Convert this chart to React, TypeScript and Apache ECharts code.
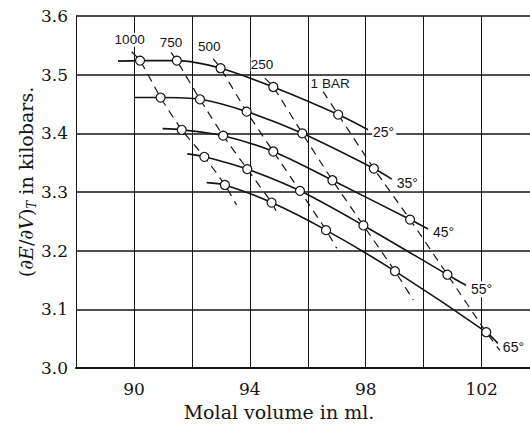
import React, { useEffect, useRef } from 'react';
import * as echarts from 'echarts';

// Labels
const temperatures = ['25°', '35°', '45°', '55°', '65°'];
const pressureLabels = ['1000', '750', '500', '250', '1 BAR'];

// Circle points per isotherm, in the order 1000, 750, 500, 250, 1 bar
const vol25 = [90.21, 91.48, 92.99, 94.81, 97.05];
const val25 = [3.524, 3.524, 3.511, 3.479, 3.432];
const vol35 = [90.92, 92.28, 93.89, 95.81, 98.28];
const val35 = [3.461, 3.458, 3.437, 3.4, 3.34];
const vol45 = [91.65, 93.08, 94.81, 96.85, 99.53];
const val45 = [3.406, 3.396, 3.369, 3.32, 3.253];
const vol55 = [92.43, 93.91, 95.73, 97.92, 100.82];
const val55 = [3.36, 3.339, 3.302, 3.243, 3.159];
const vol65 = [93.14, 94.75, 96.63, 99.01, 102.16];
const val65 = [3.312, 3.282, 3.235, 3.165, 3.061];

// Where each isotherm curve begins and ends
const isothermStart = [[89.45, 3.523], [90.0, 3.461], [90.99, 3.408], [91.84, 3.365], [92.51, 3.316]];
const isothermEnd = [[98.08, 3.406], [98.9, 3.322], [100.15, 3.237], [101.46, 3.141], [102.56, 3.042]];

// Where each isobar (dashed) begins and ends
const isobarStart = [[89.92, 3.539], [91.28, 3.538], [92.74, 3.527], [94.52, 3.494], [96.53, 3.471]];
const isobarEnd = [[93.54, 3.278], [94.98, 3.261], [97.0, 3.204], [99.64, 3.116], [102.63, 3.03]];

// Axis ticks
const xLabelTicks = [90, 94, 98, 102];
const yTicks = [3.0, 3.1, 3.2, 3.3, 3.4, 3.5, 3.6];

// label placement (style only)
const tempLabelOffset = [[1, 2], [1, 4], [1, 3], [1, 4], [1, 4]];
const pressLabelOffset = [[-2, -2], [0, 0], [-4, -2], [-3, -4], [7, 2]];

const vols = [vol25, vol35, vol45, vol55, vol65];
const vals = [val25, val35, val45, val55, val65];

const INK = '#141414';

export default function App() {
  const ref = useRef<HTMLDivElement>(null);
  useEffect(() => {
    if (!ref.current) return;
    const chart = echarts.init(ref.current, undefined, { renderer: 'svg' });

    const isobars = pressureLabels.map((p, i) => ({
      type: 'line',
      z: 2,
      symbol: 'none',
      smooth: 0.2,
      silent: true,
      lineStyle: { color: INK, width: 1.2, type: [8, 6] },
      data: [
        {
          value: isobarStart[i],
          symbol: 'circle',
          symbolSize: 0,
          label: {
            show: true,
            position: 'top',
            distance: 3,
            offset: pressLabelOffset[i],
            formatter: p,
            color: INK,
            fontFamily: 'Liberation Sans, Arial, sans-serif',
            fontSize: 13.5,
            backgroundColor: '#fff',
          },
        },
        ...vols.map((v, t) => [v[i], vals[t][i]]),
        isobarEnd[i],
      ],
    }));

    const isotherms = temperatures.map((tLabel, t) => ({
      type: 'line',
      z: 4,
      smooth: 0.3,
      silent: true,
      symbol: 'circle',
      symbolSize: 9,
      itemStyle: { color: '#fff', borderColor: INK, borderWidth: 1.2 },
      lineStyle: { color: INK, width: 1.6 },
      endLabel: {
        show: true,
        formatter: tLabel,
        distance: 3,
        offset: tempLabelOffset[t],
        color: INK,
        fontFamily: 'Liberation Sans, Arial, sans-serif',
        fontSize: 14,
        backgroundColor: '#fff',
        padding: [1, 2, 1, 1],
      },
      data: [
        { value: isothermStart[t], symbol: 'none' },
        ...vols[t].map((v, i) => [v, vals[t][i]]),
        { value: isothermEnd[t], symbol: 'none' },
      ],
    }));

    chart.setOption({
      animation: false,
      backgroundColor: '#fff',
      grid: { left: 76, top: 16, right: 0, bottom: 56 },
      xAxis: {
        type: 'value',
        min: 88,
        max: 103.67,
        interval: 2,
        axisLine: { show: true, lineStyle: { color: INK, width: 2 } },
        axisTick: { show: false },
        splitLine: { show: true, lineStyle: { color: INK, width: 1 } },
        axisLabel: {
          margin: 12,
          color: INK,
          fontFamily: 'DejaVu Serif, serif',
          fontSize: 17,
          showMaxLabel: false,
          formatter: (v: number) => (xLabelTicks.includes(Math.round(v * 100) / 100) ? String(v) : ''),
        },
      },
      yAxis: {
        type: 'value',
        min: yTicks[0],
        max: yTicks[yTicks.length - 1],
        interval: 0.1,
        axisLine: { show: true, lineStyle: { color: INK, width: 1 } },
        axisTick: { show: false },
        splitLine: { show: true, lineStyle: { color: INK, width: 1.5 } },
        axisLabel: {
          margin: 8,
          color: INK,
          fontFamily: 'DejaVu Serif, serif',
          fontSize: 17,
          formatter: (v: number) => v.toFixed(1),
        },
      },
      graphic: [
        {
          type: 'text',
          x: 279,
          y: 412,
          style: {
            text: 'Molal volume in ml.',
            fontFamily: 'DejaVu Serif',
            fontSize: 19,
            fill: INK,
            align: 'center',
            verticalAlign: 'middle',
          },
        },
        {
          type: 'text',
          x: 26,
          y: 182,
          rotation: Math.PI / 2,
          style: {
            text: '{n|(∂}{i|E}{n|/∂}{i|V}{n|)}{s|T}{n| in kilobars.}',
            fill: INK,
            align: 'center',
            verticalAlign: 'middle',
            rich: {
              n: { fontFamily: 'DejaVu Serif', fontSize: 19, lineHeight: 24, fill: INK },
              i: { fontFamily: 'DejaVu Serif', fontSize: 19, fontStyle: 'italic', lineHeight: 24, fill: INK },
              s: { fontFamily: 'DejaVu Serif', fontSize: 12, fontStyle: 'italic', lineHeight: 10, verticalAlign: 'bottom', fill: INK },
            },
          },
        },
      ],
      series: [...isobars, ...isotherms],
    });
    return () => chart.dispose();
  }, []);
  return <div ref={ref} style={{ position: 'fixed', left: 0, top: 0, width: 530, height: 424 }} />;
}
